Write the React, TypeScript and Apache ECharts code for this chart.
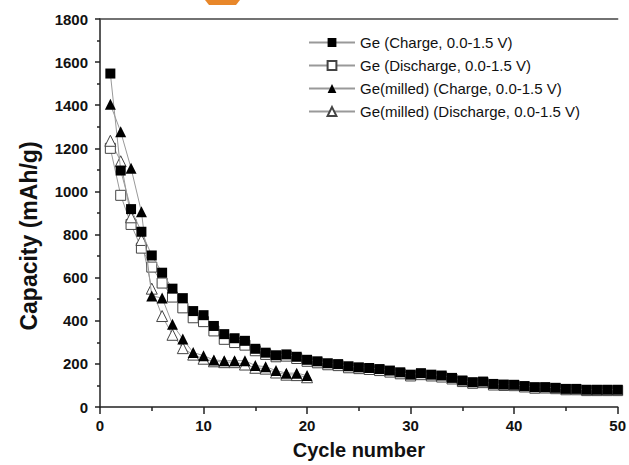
import React, { useEffect, useRef } from "react";
import * as echarts from "echarts";

const cycles50 = Array.from({ length: 50 }, (_, i) => i + 1);
const cycles20 = cycles50.slice(0, 20);

const geCharge = [
  1547, 1097, 918, 813, 703, 623, 549, 505, 445, 426,
  376, 338, 319, 307, 270, 252, 240, 244, 233, 219,
  212, 203, 199, 189, 184, 181, 176, 169, 161, 150,
  157, 150, 146, 135, 123, 115, 118, 107, 104, 103,
  97, 92, 92, 89, 84, 84, 80, 80, 80, 80,
];
const geDischarge = [
  1200, 982, 847, 737, 649, 575, 510, 460, 414, 396,
  353, 314, 299, 287, 261, 244, 233, 236, 225, 212,
  205, 196, 192, 182, 178, 174, 169, 162, 154, 144,
  150, 144, 139, 130, 118, 110, 113, 102, 100, 99,
  93, 87, 88, 85, 80, 80, 76, 76, 76, 76,
];
const milledCharge = [
  1404, 1277, 1108, 906, 515, 506, 384, 315, 253, 238,
  218, 215, 215, 215, 192, 187, 169, 157, 157, 146,
];
const milledDischarge = [
  1235, 1140, 880, 775, 549, 422, 335, 273, 243, 224,
  212, 208, 208, 197, 182, 178, 160, 150, 148, 138,
];

const seriesNames = [
  "Ge (Charge, 0.0-1.5 V)",
  "Ge (Discharge, 0.0-1.5 V)",
  "Ge(milled) (Charge, 0.0-1.5 V)",
  "Ge(milled) (Discharge, 0.0-1.5 V)",
];

const FONT = "'Liberation Sans', Arial, sans-serif";

export default function App() {
  const ref = useRef<HTMLDivElement>(null);
  useEffect(() => {
    if (!ref.current) return;
    const chart = echarts.init(ref.current, null, { renderer: "svg" });
    const pair = (xs: number[], ys: number[]) => xs.map((x, i) => [x, ys[i]]);
    const lineStyle = { color: "#999", width: 1 };
    chart.setOption({
      animation: false,
      backgroundColor: "#fff",
      textStyle: { fontFamily: FONT },
      grid: { left: 100, right: 7, top: 19, bottom: 55 },
      legend: {
        orient: "vertical",
        left: 303,
        top: 30,
        itemGap: 8,
        itemWidth: 46,
        itemHeight: 11,
        textStyle: { fontFamily: FONT, fontSize: 15, color: "#111" },
        data: seriesNames,
      },
      xAxis: [
        {
          type: "value",
          min: 0,
          max: 50,
          interval: 10,
          name: "Cycle number",
          nameLocation: "middle",
          nameGap: 33,
          nameTextStyle: { fontFamily: FONT, fontSize: 20, fontWeight: "bold", color: "#111" },
          axisLine: { show: true, onZero: false, lineStyle: { color: "#222", width: 1.5 } },
          axisTick: { show: true, length: 7, lineStyle: { color: "#222", width: 1.5 } },
          minorTick: { show: true, splitNumber: 2, length: 4, lineStyle: { color: "#222", width: 1.5 } },
          axisLabel: { fontFamily: FONT, fontSize: 15, fontWeight: "bold", color: "#111", margin: 11 },
          splitLine: { show: false },
        },
        {
          type: "value",
          position: "top",
          min: 0,
          max: 50,
          axisLine: { show: true, onZero: false, lineStyle: { color: "#444", width: 1.5 } },
          axisTick: { show: false },
          axisLabel: { show: false },
          splitLine: { show: false },
        },
      ],
      yAxis: {
        type: "value",
        min: 0,
        max: 1800,
        interval: 200,
        name: "Capacity (mAh/g)",
        nameLocation: "middle",
        nameGap: 60,
        nameTextStyle: {
          fontFamily: FONT,
          fontSize: 23,
          fontWeight: "bold",
          color: "#111",
          padding: [0, 46, 0, 0],
        },
        axisLine: { show: true, onZero: false, lineStyle: { color: "#222", width: 1.5 } },
        axisTick: { show: true, length: 5, lineStyle: { color: "#222", width: 1.5 } },
        minorTick: { show: true, splitNumber: 2, length: 3, lineStyle: { color: "#222", width: 1.5 } },
        axisLabel: {
          fontFamily: FONT,
          fontSize: 15,
          fontWeight: "bold",
          color: "#111",
          margin: 12,
          formatter: (v: number) => String(v),
        },
        splitLine: { show: false },
      },
      graphic: [
        {
          type: "polygon",
          shape: { points: [[205, 0], [240, 0], [236, 5], [209, 5]] },
          style: { fill: "#E8872A" },
          silent: true,
        },
      ],
      series: [
        {
          name: seriesNames[1],
          type: "line",
          data: pair(cycles50, geDischarge),
          symbol: "rect",
          symbolSize: 10,
          itemStyle: { color: "#fff", borderColor: "#444", borderWidth: 1 },
          lineStyle,
          z: 2,
        },
        {
          name: seriesNames[3],
          type: "line",
          data: pair(cycles20, milledDischarge),
          symbol: "triangle",
          symbolSize: 11,
          itemStyle: { color: "#fff", borderColor: "#444", borderWidth: 1 },
          lineStyle,
          z: 2,
        },
        {
          name: seriesNames[0],
          type: "line",
          data: pair(cycles50, geCharge),
          symbol: "rect",
          symbolSize: 10,
          itemStyle: { color: "#000", borderColor: "#000", borderWidth: 0 },
          lineStyle,
          z: 3,
        },
        {
          name: seriesNames[2],
          type: "line",
          data: pair(cycles20, milledCharge),
          symbol: "triangle",
          symbolSize: 11,
          itemStyle: { color: "#000", borderColor: "#000", borderWidth: 0 },
          lineStyle,
          z: 3,
        },
      ],
    });
    return () => chart.dispose();
  }, []);
  return (
    <div
      ref={ref}
      style={{ position: "absolute", left: 0, top: 0, width: 629, height: 465 }}
    />
  );
}
